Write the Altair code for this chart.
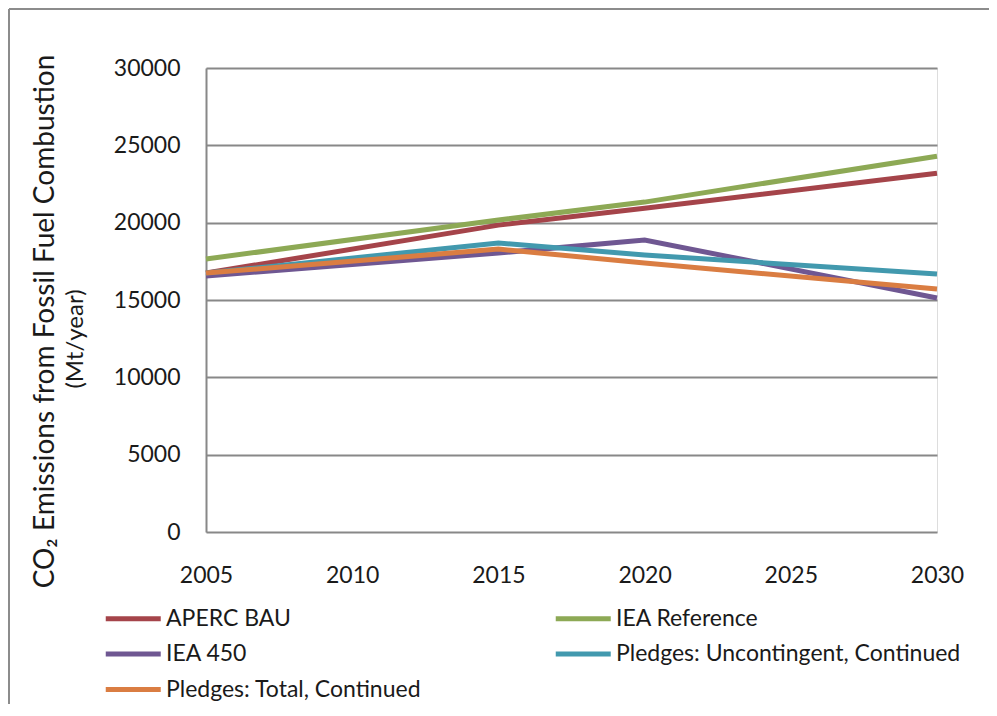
import altair as alt
import pandas as pd

years = [2005, 2015, 2020, 2030]
series_names = ["APERC BAU", "IEA Reference", "IEA 450",
                "Pledges: Uncontingent, Continued", "Pledges: Total, Continued"]
aperc_bau = [16740, 19840, 20930, 23200]
iea_reference = [17650, 20170, 21330, 24300]
iea_450 = [16550, 18040, 18880, 15130]
pledges_uncontingent = [16740, 18680, 17910, 16680]
pledges_total = [16740, 18290, 17390, 15710]
colors = ["#A5444A", "#8DA955", "#6F5792", "#4299AE", "#DA7D42"]
y_ticks = [0, 5000, 10000, 15000, 20000, 25000, 30000]
x_ticks = [2005, 2010, 2015, 2020, 2025, 2030]
title_line1 = "CO₂ Emissions from Fossil Fuel Combustion"
title_line2 = "(Mt/year)"

rows = []
for name, vals in zip(series_names, [aperc_bau, iea_reference, iea_450,
                                     pledges_uncontingent, pledges_total]):
    for yr, v in zip(years, vals):
        rows.append({"year": yr, "value": v, "series": name,
                     "order": series_names.index(name)})
df = pd.DataFrame(rows)

FONT = "Lato"
W, H = 731, 464
PL, PT, PR, PB = 198, 60, 52, 172

lines = alt.Chart(df).mark_line(strokeWidth=5, strokeCap="butt", strokeJoin="miter").encode(
    x=alt.X("year:Q", scale=alt.Scale(domain=[2005, 2030], nice=False),
            axis=alt.Axis(values=x_ticks, format="d", title=None, grid=False,
                          domain=False, ticks=False, labelPadding=32,
                          labelFontSize=23, labelFont=FONT, labelColor="#1a1a1a",
                          labelFlush=False)),
    y=alt.Y("value:Q", scale=alt.Scale(domain=[0, 30000], nice=False),
            axis=alt.Axis(values=y_ticks, format="d", grid=True, gridColor="#888888",
                          gridWidth=2, domain=True, domainColor="#888888", domainWidth=2,
                          ticks=False, labelPadding=26, labelFontSize=23, labelFont=FONT,
                          labelColor="#1a1a1a",
                          title=title_line1,
                          titleFont=FONT, titleFontSize=28, titleFontWeight="normal",
                          titleColor="#1a1a1a",
                          titleX=-161, titleY=253, titleAngle=270,
                          titleAlign="center", titleBaseline="middle")),
    color=alt.Color("series:N", scale=alt.Scale(domain=series_names, range=colors),
                    sort=series_names,
                    legend=alt.Legend(title=None, orient="none", legendX=-103, legendY=534,
                                      columns=2, columnPadding=123, rowPadding=6.5,
                                      symbolType="M-1,0H3", symbolSize=756,
                                      symbolStrokeWidth=5, labelOffset=30,
                                      labelFont=FONT, labelFontSize=23,
                                      labelColor="#1a1a1a", labelLimit=0,
                                      direction="horizontal")),
    order=alt.Order("order:Q"),
    detail="series:N",
)

subtitle = alt.Chart(pd.DataFrame({"t": [title_line2]})).mark_text(
    angle=270, font=FONT, fontSize=24, color="#1a1a1a", align="center", baseline="middle"
).encode(text="t:N", x=alt.value(-130), y=alt.value(271))

top_border = alt.Chart(df).mark_rule(color="#8c8c8c", strokeWidth=2).encode(
    x=alt.value(-PL + 1), x2=alt.value(W + PR), y=alt.value(-PT + 1)
)
left_border = alt.Chart(df).mark_rule(color="#8c8c8c", strokeWidth=2).encode(
    x=alt.value(-PL + 1), y=alt.value(-PT + 1), y2=alt.value(H + PB)
)

chart = alt.layer(top_border, left_border, subtitle, lines).properties(
    width=W, height=H,
    autosize=alt.AutoSizeParams(type="none"),
    padding={"left": PL, "top": PT, "right": PR, "bottom": PB},
).configure_view(stroke=None).configure(background="white")

chart.save("out.html", embed_options={"renderer": "svg", "actions": False})
